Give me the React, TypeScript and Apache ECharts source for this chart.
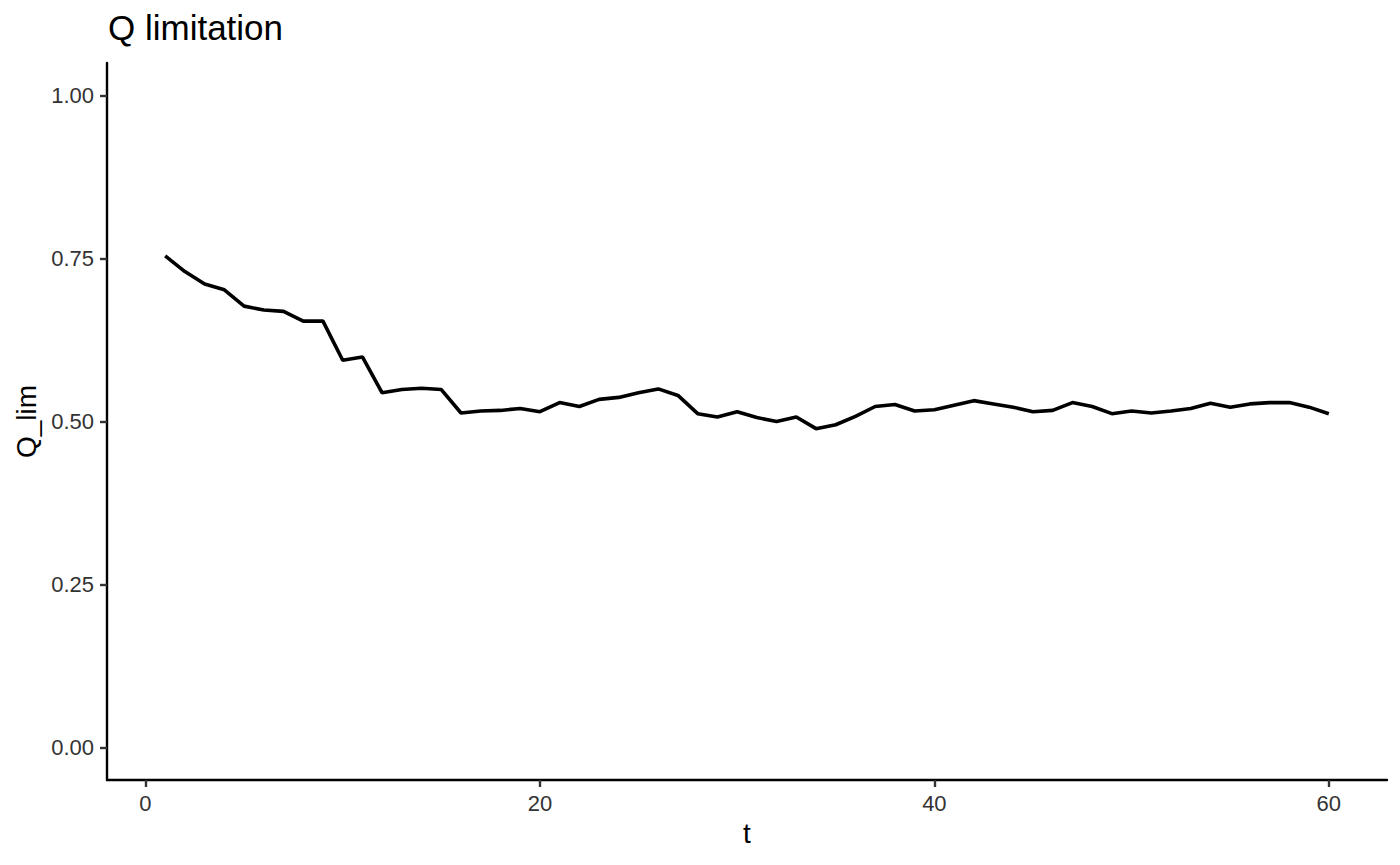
import React, { useEffect, useRef } from "react";
import * as echarts from "echarts";

const tValues: number[] = Array.from({ length: 60 }, (_, i) => i + 1);
const qLim: number[] = [
  0.754, 0.730, 0.711, 0.702, 0.677, 0.671, 0.669, 0.654, 0.654, 0.594,
  0.599, 0.544, 0.549, 0.551, 0.549, 0.513, 0.516, 0.517, 0.520, 0.515,
  0.529, 0.523, 0.534, 0.537, 0.544, 0.550, 0.540, 0.512, 0.507, 0.515,
  0.506, 0.500, 0.507, 0.489, 0.495, 0.508, 0.523, 0.526, 0.516, 0.518,
  0.525, 0.532, 0.527, 0.522, 0.515, 0.517, 0.529, 0.523, 0.512, 0.516,
  0.513, 0.516, 0.520, 0.528, 0.522, 0.527, 0.529, 0.529, 0.522, 0.512,
];
const xTicks: number[] = [0, 20, 40, 60];
const yTicks: number[] = [0, 0.25, 0.5, 0.75, 1.0];

export default function App() {
  const ref = useRef<HTMLDivElement>(null);
  useEffect(() => {
    if (!ref.current) return;
    const chart = echarts.init(ref.current, undefined, { renderer: "svg" });
    const font = "'Liberation Sans', Arial, sans-serif";
    chart.setOption({
      animation: false,
      backgroundColor: "#ffffff",
      title: {
        text: "Q limitation",
        left: 103,
        top: 5,
        textStyle: { fontFamily: font, fontSize: 35, fontWeight: "normal", color: "#000" },
      },
      grid: { left: 107, right: 13, top: 63, bottom: 85, containLabel: false },
      xAxis: {
        type: "value",
        min: -1.95,
        max: 62.95,
        name: "t",
        nameLocation: "middle",
        nameGap: 39,
        nameTextStyle: { fontFamily: font, fontSize: 28, color: "#000" },
        axisLine: { show: true, onZero: false, lineStyle: { color: "#000", width: 2.4 } },
        axisTick: { show: true, length: 7, customValues: xTicks, lineStyle: { color: "#333", width: 2.4 } },
        axisLabel: { customValues: xTicks, fontFamily: font, fontSize: 22, color: "#333", margin: 12 },
        splitLine: { show: false },
      },
      yAxis: {
        type: "value",
        min: -0.05,
        max: 1.05,
        name: "Q_lim",
        nameLocation: "middle",
        nameGap: 65,
        nameRotate: 90,
        nameTextStyle: { fontFamily: font, fontSize: 28, color: "#000" },
        axisLine: { show: true, onZero: false, lineStyle: { color: "#000", width: 2.4 } },
        axisTick: { show: true, length: 7, customValues: yTicks, lineStyle: { color: "#333", width: 2.4 } },
        axisLabel: {
          customValues: yTicks,
          fontFamily: font,
          fontSize: 22,
          color: "#333",
          margin: 13,
          formatter: (v: number) => v.toFixed(2),
        },
        splitLine: { show: false },
      },
      series: [
        {
          type: "line",
          data: tValues.map((t, i) => [t, qLim[i]]),
          showSymbol: false,
          lineStyle: { color: "#000", width: 3.6 },
        },
      ],
    });
    return () => chart.dispose();
  }, []);
  return <div ref={ref} style={{ width: 1400, height: 865, margin: -8 }} />;
}
